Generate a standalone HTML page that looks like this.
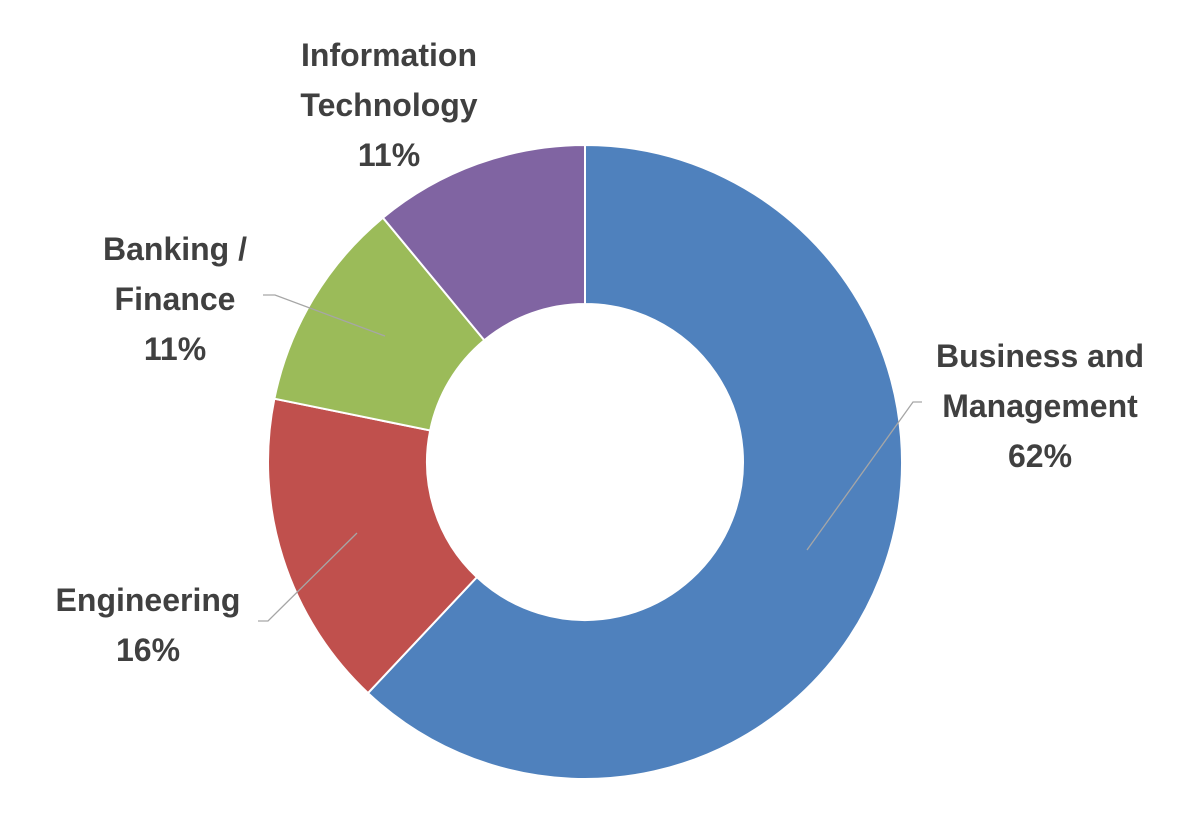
<!DOCTYPE html>
<html><head><meta charset="utf-8"><style>
html,body{margin:0;padding:0;background:#fff;}
svg text{font-family:"Liberation Sans",sans-serif;font-weight:bold;fill:#404040;font-size:32px;text-anchor:middle;}
</style></head><body>
<svg id="chart" width="1191" height="831" viewBox="0 0 1191 831">
<g id="slices"></g>
<g id="labels"></g>
</svg>
<script>
const categories=["Business and Management","Engineering","Banking / Finance","Information Technology"];
const values=[62,16.2,10.8,11];
const colors=["#4f81bd","#c0504d","#9bbb59","#8064a2"];
const labelLines=[["Business and","Management"],["Engineering"],["Banking /","Finance"],["Information","Technology"]];
const cx=585,cy=462,R=317,r=158;
const labelPos=[[1040,367],[148,611],[175,260],[389,66]];
const leaders=[[[807,550],[913,402],[922,402]],[[357,533],[268,621],[258,621]],[[385,336],[275,295],[263,295]],null];
const ns="http://www.w3.org/2000/svg";
const total=values.reduce((a,b)=>a+b,0);
function pt(a,rad){return [cx+rad*Math.sin(a),cy-rad*Math.cos(a)];}
let acc=0;
const gs=document.getElementById('slices'),gl=document.getElementById('labels');
values.forEach((v,i)=>{
  const a0=acc/total*2*Math.PI;acc+=v;const a1=acc/total*2*Math.PI;
  const large=(a1-a0)>Math.PI?1:0;
  const p0=pt(a0,R),p1=pt(a1,R),q1=pt(a1,r),q0=pt(a0,r);
  const p=document.createElementNS(ns,'path');
  p.setAttribute('d',`M${p0[0]},${p0[1]} A${R},${R} 0 ${large} 1 ${p1[0]},${p1[1]} L${q1[0]},${q1[1]} A${r},${r} 0 ${large} 0 ${q0[0]},${q0[1]} Z`);
  p.setAttribute('fill',colors[i]);p.setAttribute('stroke','#fff');p.setAttribute('stroke-width','2');
  
  
  gs.appendChild(p);
  if(leaders[i]){
    const l=document.createElementNS(ns,'polyline');
    l.setAttribute('points',leaders[i].map(q=>q.join(',')).join(' '));
    l.setAttribute('fill','none');l.setAttribute('stroke','#a6a6a6');l.setAttribute('stroke-width','1.3');
    
    
    gl.appendChild(l);
  }
  const lines=labelLines[i].concat([Math.round(v/total*100)+'%']);
  const t=document.createElementNS(ns,'text');
  
  
  lines.forEach((s,k)=>{const ts=document.createElementNS(ns,'tspan');ts.setAttribute('x',labelPos[i][0]);ts.setAttribute('y',labelPos[i][1]+k*50);ts.textContent=s;t.appendChild(ts);});
  gl.appendChild(t);
});
</script>
</body></html>
